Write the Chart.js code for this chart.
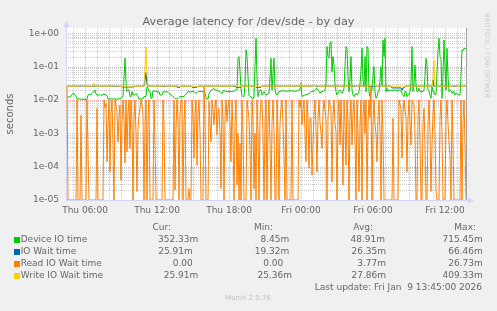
<!DOCTYPE html>
<html>
<head>
<meta charset="utf-8">
<script src="https://cdn.jsdelivr.net/npm/chart.js@4"></script>
<style>
  body { margin: 0; background: #f0f0f0; }
  #wrap { position: relative; width: 497px; height: 311px; font-family: 'DejaVu Sans'; color: #666; overflow: hidden; }
  #chart { position: absolute; left: 0; top: 0; }
  #wrap div.t { position: absolute; white-space: pre; line-height: 1; }
  #mark { position: absolute; writing-mode: vertical-rl; white-space: pre; font-size: 6.6px; line-height: 7px; color: #c8c8c8; left: 482.5px; top: 13px; }
</style>
</head>
<body>
<div id="wrap"><canvas id="chart" width="497" height="311"></canvas></div>
<script>
// 5 minute samples, first one at Thu 04:30 (minutes since Thu 00:00)
const startMin = 270;
const stepMin = 5;

const xTickMinutes = [360, 720, 1080, 1440, 1800, 2160];
const xTickLabels = ['Thu 06:00', 'Thu 12:00', 'Thu 18:00', 'Fri 00:00', 'Fri 06:00', 'Fri 12:00'];
const yTickValues = [1e-5, 1e-4, 1e-3, 1e-2, 1e-1, 1];
const yTickLabels = ['1e-05', '1e-04', '1e-03', '1e-02', '1e-01', '1e+00'];
const yMin = 1e-5, yMax = 1.44;

const deviceIO = [
  0.012, 0.0125, 0.012, 0.0126, 0.013, 0.0145, 0.016, 0.0155, 0.014, 0.013,
  0.0107, 0.0105, 0.011, 0.0105, 0.0107, 0.0104, 0.0106, 0.0102, 0.0108, 0.01,
  0.0105, 0.014, 0.0148, 0.015, 0.0145, 0.0155, 0.017, 0.0178, 0.02, 0.015,
  0.0141, 0.0138, 0.0142, 0.0145, 0.0135, 0.014, 0.015, 0.0145, 0.0148, 0.014,
  0.0135, 0.0107, 0.0105, 0.011, 0.0106, 0.0108, 0.0105, 0.011, 0.0107, 0.0104,
  0.0108, 0.0106, 0.011, 0.0107, 0.0112, 0.012, 0.0126, 0.045, 0.178, 0.035,
  0.018, 0.02, 0.02, 0.0126, 0.0126, 0.0178, 0.0141, 0.014, 0.0145, 0.0158,
  0.014, 0.0126, 0.0107, 0.0107, 0.0108, 0.0106, 0.011, 0.0126, 0.0126, 0.0126,
  0.025, 0.0224, 0.0178, 0.0178, 0.0112, 0.0112, 0.0186, 0.0186, 0.0186, 0.0178,
  0.0178, 0.017, 0.0178, 0.0141, 0.0141, 0.0141, 0.0178, 0.0178, 0.017, 0.0178,
  0.0178, 0.017, 0.0158, 0.015, 0.0141, 0.0135, 0.0126, 0.012, 0.0112, 0.011,
  0.0107, 0.011, 0.012, 0.0126, 0.0126, 0.0126, 0.0126, 0.0126, 0.014, 0.015,
  0.0158, 0.0178, 0.0178, 0.017, 0.0178, 0.0178, 0.0178, 0.0178, 0.0165, 0.0158,
  0.0165, 0.0178, 0.0178, 0.018, 0.0178, 0.0178, 0.0178, 0.0178, 0.0158, 0.012,
  0.0107, 0.0107, 0.015, 0.0178, 0.019, 0.02, 0.021, 0.0224, 0.02, 0.0195,
  0.02, 0.019, 0.0178, 0.0178, 0.0165, 0.0158, 0.018, 0.02, 0.0185, 0.0178,
  0.0178, 0.0178, 0.018, 0.0178, 0.0178, 0.0178, 0.0178, 0.019, 0.02, 0.02,
  0.02, 0.178, 0.2, 0.07, 0.022, 0.0135, 0.0126, 0.0126, 0.03, 0.32,
  0.2, 0.05, 0.0135, 0.0126, 0.0126, 0.0112, 0.0107, 0.0126, 0.1, 0.71,
  0.05, 0.0126, 0.0178, 0.02, 0.02, 0.0141, 0.0158, 0.0178, 0.0155, 0.0141,
  0.0141, 0.0158, 0.0155, 0.05, 0.178, 0.02, 0.06, 0.178, 0.02, 0.015,
  0.0141, 0.016, 0.0178, 0.018, 0.0186, 0.0186, 0.019, 0.0186, 0.0186, 0.0186,
  0.0182, 0.0186, 0.0186, 0.0186, 0.019, 0.0186, 0.0186, 0.0186, 0.0182, 0.0186,
  0.0186, 0.019, 0.02, 0.021, 0.025, 0.0126, 0.0135, 0.0141, 0.0141, 0.0141,
  0.0145, 0.015, 0.0158, 0.0165, 0.0178, 0.0178, 0.0178, 0.019, 0.02, 0.021,
  0.0224, 0.02, 0.018, 0.0158, 0.0178, 0.0178, 0.0178, 0.019, 0.02, 0.03,
  0.4, 0.2, 0.178, 0.5, 0.56, 0.07, 0.2, 0.112, 0.03, 0.0178,
  0.0141, 0.0158, 0.0178, 0.02, 0.0178, 0.0158, 0.0178, 0.0224, 0.1, 0.4,
  0.355, 0.05, 0.0178, 0.04, 0.2, 0.02, 0.0141, 0.0126, 0.0141, 0.0158,
  0.0141, 0.015, 0.0178, 0.03, 0.071, 0.36, 0.04, 0.025, 0.2, 0.0178,
  0.4, 0.355, 0.0178, 0.0126, 0.0178, 0.02, 0.05, 0.1, 0.0178, 0.0112,
  0.0126, 0.0178, 0.0178, 0.04, 0.1, 0.028, 0.63, 0.2, 0.71, 0.0178,
  0.0224, 0.0178, 0.02, 0.0195, 0.02, 0.019, 0.0195, 0.02, 0.02, 0.0195,
  0.019, 0.02, 0.0195, 0.02, 0.0186, 0.0158, 0.0141, 0.0126, 0.0178, 0.0178,
  0.0126, 0.0141, 0.0141, 0.0178, 0.03, 0.4, 0.0178, 0.03, 0.112, 0.028,
  0.0178, 0.0178, 0.0224, 0.0178, 0.0178, 0.0178, 0.0178, 0.02, 0.05, 0.178,
  0.112, 0.02, 0.0178, 0.0141, 0.0112, 0.025, 0.0178, 0.0178, 0.0141, 0.015,
  0.063, 0.3, 0.71, 0.2, 0.178, 0.0112, 0.05, 0.63, 0.1, 0.02,
  0.355, 0.05, 0.0178, 0.02, 0.019, 0.0158, 0.0178, 0.0178, 0.0141, 0.0158,
  0.0158, 0.0141, 0.0141, 0.0141, 0.05, 0.32, 0.3, 0.355, 0.34, 0.352
];

const readIOWait = [
  0.026, 0, 0, 0, 0, 0, 0, 0, 0, 0,
  0.01, 0, 0, 0, 0.0035, 0, 0, 0, 0, 0,
  0.01, 0.0003, 0, 0, 0, 0, 0, 0, 0, 0,
  0.0056, 0, 0, 0, 0, 0, 0, 0.01, 0.006, 0.008,
  0.00014, 0.0018, 0.01, 0.00007, 0.004, 0.01, 0.0005, 0, 0.01, 0.007,
  0.0045, 0.00056, 0.003, 0.0071, 0.00004, 0.002, 0.01, 0.0028, 0.00013, 0.01,
  0.00028, 0.004, 0.01, 0.00035, 0.01, 0.002, 0, 0.003, 0.01, 0.001,
  0.000018, 0.0015, 0.0035, 0.006, 0.01, 0.007, 0.0035, 0, 0.002, 0.01,
  0, 0.003, 0.01, 0, 0, 0, 0, 0.01, 0.0005, 0,
  0, 0, 0, 0, 0, 0, 0.01, 0.002, 0, 0,
  0, 0, 0, 0, 0, 0, 0, 0.01, 0.00002, 0.0014,
  0.01, 0.003, 0, 0.004, 0.01, 0.01, 0, 0.002, 0.01, 0,
  0, 0, 0.000022, 0, 0, 0.01, 0.003, 0.00018, 0.004, 0.01,
  0.00011, 0.004, 0.01, 0.001, 0, 0, 0, 0.026, 0.002, 0,
  0, 0, 0.0089, 0.002, 0.00056, 0.01, 0.005, 0.0018, 0.006, 0.01,
  0.0009, 0.004, 0.0056, 0.001, 0.000022, 0.01, 0.003, 0, 0.003, 0.01,
  0.0022, 0.006, 0.01, 0.002, 0.00014, 0.01, 0.001, 0, 0.002, 0.01,
  0.000028, 0.001, 0, 0.0005, 0, 0.01, 0.001, 0, 0, 0,
  0.01, 0.005, 0.0028, 0.0003, 0, 0.01, 0.002, 0.000022, 0.001, 0,
  0.01, 0.001, 0, 0.003, 0.01, 0.0089, 0.001, 0, 0.002, 0.01,
  0, 0.002, 0.01, 0.0005, 0, 0.002, 0.01, 0.001, 0, 0,
  0.01, 0.001, 0, 0.002, 0.006, 0.01, 0.002, 0.0002, 0, 0.01,
  0, 0, 0, 0, 0, 0.01, 0, 0, 0, 0,
  0, 0, 0.01, 0.006, 0.01, 0.0018, 0.005, 0.01, 0.001, 0.00014,
  0.01, 0.0028, 0.00009, 0.003, 0.0028, 0.000056, 0.00045, 0.004, 0.01, 0.0014,
  0.00007, 0.003, 0.01, 0.002, 0.0011, 0.00035, 0.004, 0.01, 0.005, 0.0028,
  0, 0.003, 0.01, 0.007, 0.0056, 0.000035, 0.003, 0.01, 0.002, 0.0011,
  0, 0.004, 0.01, 0.00045, 0.01, 0.001, 0.000028, 0.01, 0.002, 0.00011,
  0.01, 0.002, 0, 0.003, 0.01, 0.00045, 0.004, 0.01, 0.001, 0,
  0.01, 0.001, 0.000018, 0.002, 0.01, 0, 0.003, 0.01, 0.001, 0.01,
  0, 0.002, 0.01, 0.003, 0.026, 0, 0.002, 0.01, 0.002, 0.0009,
  0.00014, 0.003, 0.01, 0.001, 0, 0.01, 0.001, 0, 0, 0,
  0, 0, 0, 0, 0, 0, 0.0028, 0, 0, 0,
  0, 0, 0.01, 0.007, 0.0056, 0.00018, 0.004, 0.01, 0.005, 0.0028,
  0.00007, 0.003, 0.01, 0.002, 0.00045, 0.01, 0.008, 0.0071, 0.001, 0,
  0, 0.003, 0.01, 0.0005, 0, 0, 0.002, 0.0056, 0.0005, 0,
  0, 0.002, 0.01, 0.001, 0.000018, 0.0005, 0.004, 0.01, 0.001, 0.000018,
  0, 0, 0, 0.003, 0.01, 0.001, 0, 0, 0, 0.003,
  0.01, 0.002, 0.00056, 0.0002, 0, 0.01, 0.0005, 0, 0, 0,
  0, 0, 0, 0, 0.01, 0, 0.002, 0.01, 0.0005, 0
];

// these two are flat most of the day, so only the sample numbers where they change are kept
const ioWaitAt = [0, 54, 55, 67, 68, 77, 78, 79, 80, 81, 109, 110, 113, 114, 124, 125, 130, 131,
  168, 169, 174, 175, 188, 189, 194, 195, 233, 234, 235, 246, 247, 248, 324, 325, 334, 335, 336, 337, 338,
  365, 366, 367, 399];
const ioWait = [0.0259, 0.0259, 0.0245, 0.0245, 0.0259, 0.0259, 0.04, 0.066, 0.03, 0.0259, 0.0259, 0.024, 0.024, 0.0259,
  0.0259, 0.024, 0.024, 0.0259, 0.0259, 0.024, 0.024, 0.0259, 0.0259, 0.024, 0.024, 0.0259, 0.0259, 0.033, 0.0259,
  0.0259, 0.028, 0.0259, 0.0259, 0.023, 0.023, 0.0195, 0.023, 0.023, 0.0259, 0.0259, 0.04, 0.0259, 0.0259];

const writeWaitAt = [0, 12, 13, 14, 26, 27, 28, 44, 45, 46, 49, 50, 51, 77, 78, 79, 80, 81, 96, 97, 98,
  109, 110, 111, 167, 168, 169, 233, 234, 235, 246, 247, 248, 249, 250, 251, 286, 287, 288,
  302, 303, 307, 308, 365, 366, 367, 368, 386, 387, 388, 399];
const writeWait = [0.0259, 0.0259, 0.028, 0.0259, 0.0259, 0.0325, 0.0259, 0.0259, 0.027, 0.0259, 0.0259, 0.0275, 0.0259,
  0.0259, 0.09, 0.39, 0.06, 0.0259, 0.0259, 0.028, 0.0259, 0.0259, 0.028, 0.0259, 0.0259, 0.028, 0.0259,
  0.0259, 0.032, 0.0259, 0.0259, 0.029, 0.0259, 0.0259, 0.028, 0.0259, 0.0259, 0.028, 0.0259,
  0.0259, 0.028, 0.028, 0.0259, 0.0259, 0.04, 0.156, 0.0259, 0.0259, 0.028, 0.0259, 0.0259];

const legendNames = ['Device IO time', 'IO Wait time', 'Read IO Wait time', 'Write IO Wait time'];
const legendColors = ['#00cc00', '#0066b3', '#ff8000', '#ffcc00'];
const colHeads = ['Cur:', 'Min:', 'Avg:', 'Max:'];
const curVals = ['352.33m', '25.91m', '0.00', '25.91m'];
const minVals = ['8.45m', '19.32m', '0.00', '25.36m'];
const avgVals = ['48.91m', '26.35m', '3.77m', '27.86m'];
const maxVals = ['715.45m', '66.46m', '26.73m', '409.33m'];

// a zero can't sit on a log axis, rrdtool puts it on the floor of the graph
const floorY = v => Math.max(v, yMin);
const toPts = vals => vals.map((v, i) => ({x: startMin + i * stepMin, y: floorY(v)}));
const toSparse = (at, vals) => at.map((k, j) => ({x: startMin + k * stepMin, y: floorY(vals[j])}));

// text around the graph
const wrap = document.getElementById('wrap');
function addText(str, x, base, size, align, color) {
  const d = document.createElement('div');
  d.className = 't';
  d.textContent = str;
  d.style.fontSize = size + 'px';
  d.style.top = (base - 0.846 * size) + 'px';
  if (align === 'right') d.style.right = (497 - x) + 'px';
  else if (align === 'center') { d.style.left = x + 'px'; d.style.transform = 'translateX(-50%)'; }
  else d.style.left = x + 'px';
  if (color) d.style.color = color;
  wrap.appendChild(d);
}

addText('Average latency for /dev/sde - by day', 248.5, 25.7, 11.3, 'center');
const headRight = [171, 273, 373, 476];
colHeads.forEach((h, c) => addText(h, headRight[c], 230.5, 9, 'right'));
const cellRight = [[198.3, 289.3, 385, 482.7], [192.7, 289.3, 386, 482.7], [192.7, 283.3, 386, 482.7], [198.3, 292, 386, 482.7]];
legendNames.forEach((name, r) => {
  const base = 242.5 + r * 12;
  const sq = document.createElement('div');
  sq.style.cssText = 'position:absolute;left:14px;width:6px;height:6px;top:' + (base - 6) + 'px;background:' + legendColors[r];
  wrap.appendChild(sq);
  addText(name, 20.7, base, 9, 'left');
  [curVals, minVals, avgVals, maxVals].forEach((col, c) => addText(col[r], cellRight[r][c], base, 9, 'right'));
});
addText('Last update: Fri Jan  9 13:45:00 2026', 482, 290.5, 9, 'right');
addText('Munin 2.0.76', 248, 300.5, 7, 'center', '#c0c0c0');
const mark = document.createElement('div');
mark.id = 'mark';
mark.textContent = 'RRDTOOL / TOBI OETIKER';
wrap.appendChild(mark);

// background, rrdtool style grid and axis arrows
const muninPlugin = {
  id: 'munin',
  beforeDraw(chart) {
    const {ctx, chartArea: a} = chart;
    ctx.save();
    ctx.fillStyle = '#f0f0f0';
    ctx.fillRect(0, 0, chart.width, chart.height);
    ctx.fillStyle = '#ffffff';
    ctx.fillRect(a.left, a.top, a.right - a.left, a.bottom - a.top);
    ctx.restore();
  },
  beforeDatasetsDraw(chart) {
    const {ctx, chartArea: a, scales} = chart;
    const xs = scales.x, ys = scales.y;
    ctx.save();
    ctx.lineWidth = 1;
    ctx.setLineDash([1, 1]);
    const hline = (v, color) => {
      const y = Math.round(ys.getPixelForValue(v)) + 0.5;
      ctx.strokeStyle = color;
      ctx.beginPath(); ctx.moveTo(a.left, y); ctx.lineTo(a.right, y); ctx.stroke();
    };
    const vline = (m, color) => {
      const x = Math.round(xs.getPixelForValue(m)) + 0.5;
      ctx.strokeStyle = color;
      ctx.beginPath(); ctx.moveTo(x, a.top); ctx.lineTo(x, a.bottom); ctx.stroke();
    };
    const minor = 'rgba(140,140,140,0.45)';
    const major = 'rgba(222,79,79,0.45)';
    for (let e = -5; e <= 0; e++) {
      for (let k = 2; k <= 9; k++) {
        const v = k * Math.pow(10, e);
        if (v < ys.max) hline(v, minor);
      }
    }
    for (let m = 300; m < 2265; m += 60) {
      if (m % 180 !== 0) vline(m, minor);
    }
    yTickValues.forEach(v => hline(v, major));
    for (let m = 360; m < 2265; m += 180) vline(m, major);

    ctx.setLineDash([]);
    ctx.strokeStyle = '#a0a0a0';
    ctx.beginPath(); ctx.moveTo(a.right + 0.5, a.top); ctx.lineTo(a.right + 0.5, a.bottom); ctx.stroke();

    // axes
    ctx.strokeStyle = '#cfd6f8';
    ctx.fillStyle = '#cfd6f8';
    ctx.beginPath();
    ctx.moveTo(a.left + 0.5, a.bottom + 1); ctx.lineTo(a.left + 0.5, a.top - 3);
    ctx.moveTo(a.left, a.bottom + 0.5); ctx.lineTo(a.right + 4, a.bottom + 0.5);
    ctx.stroke();
    ctx.beginPath();
    ctx.moveTo(a.left + 0.5, a.top - 7); ctx.lineTo(a.left - 2.5, a.top - 1); ctx.lineTo(a.left + 3.5, a.top - 1);
    ctx.closePath(); ctx.fill();
    ctx.beginPath();
    ctx.moveTo(a.right + 8, a.bottom + 0.5); ctx.lineTo(a.right + 2, a.bottom - 2.5); ctx.lineTo(a.right + 2, a.bottom + 3.5);
    ctx.closePath(); ctx.fill();
    ctx.restore();
  }
};

Chart.defaults.font.family = 'DejaVu Sans';
Chart.defaults.color = '#666';

const line = (label, data, color, order) => ({
  label, data, order,
  borderColor: color,
  backgroundColor: color,
  borderWidth: 1,
  pointRadius: 0,
  tension: 0,
  fill: false
});

new Chart(document.getElementById('chart'), {
  type: 'line',
  data: {
    datasets: [
      line(legendNames[0], toPts(deviceIO), legendColors[0], 4),
      line(legendNames[1], toSparse(ioWaitAt, ioWait), legendColors[1], 3),
      line(legendNames[2], toPts(readIOWait), legendColors[2], 2),
      line(legendNames[3], toSparse(writeWaitAt, writeWait), legendColors[3], 1)
    ]
  },
  options: {
    responsive: false,
    animation: false,
    events: [],
    layout: {
      padding: {left: 0, right: 31, top: 28, bottom: 91}
    },
    plugins: {
      legend: {display: false},
      tooltip: {enabled: false}
    },
    scales: {
      x: {
        type: 'linear',
        min: 265,
        max: 2265,
        afterBuildTicks: s => { s.ticks = xTickMinutes.map(v => ({value: v})); },
        afterFit: s => { s.height = 20; s.paddingLeft = 0; s.paddingRight = 0; },
        grid: {display: false, drawTicks: false},
        border: {display: false},
        ticks: {
          autoSkip: false,
          maxRotation: 0,
          padding: 5,
          color: '#666',
          font: {size: 9},
          callback: (v, i) => xTickLabels[i]
        }
      },
      y: {
        type: 'logarithmic',
        min: yMin,
        max: yMax,
        afterBuildTicks: s => { s.ticks = yTickValues.map(v => ({value: v})); },
        afterFit: s => { s.width = 66; s.paddingTop = 0; s.paddingBottom = 0; },
        grid: {display: false, drawTicks: false},
        border: {display: false},
        title: {
          display: true,
          text: 'seconds',
          color: '#666',
          font: {size: 10},
          padding: {top: 4.5, bottom: 0}
        },
        ticks: {
          padding: 7,
          color: '#666',
          font: {size: 9},
          callback: (v, i) => yTickLabels[i]
        }
      }
    }
  },
  plugins: [muninPlugin]
});
</script>
</body>
</html>
